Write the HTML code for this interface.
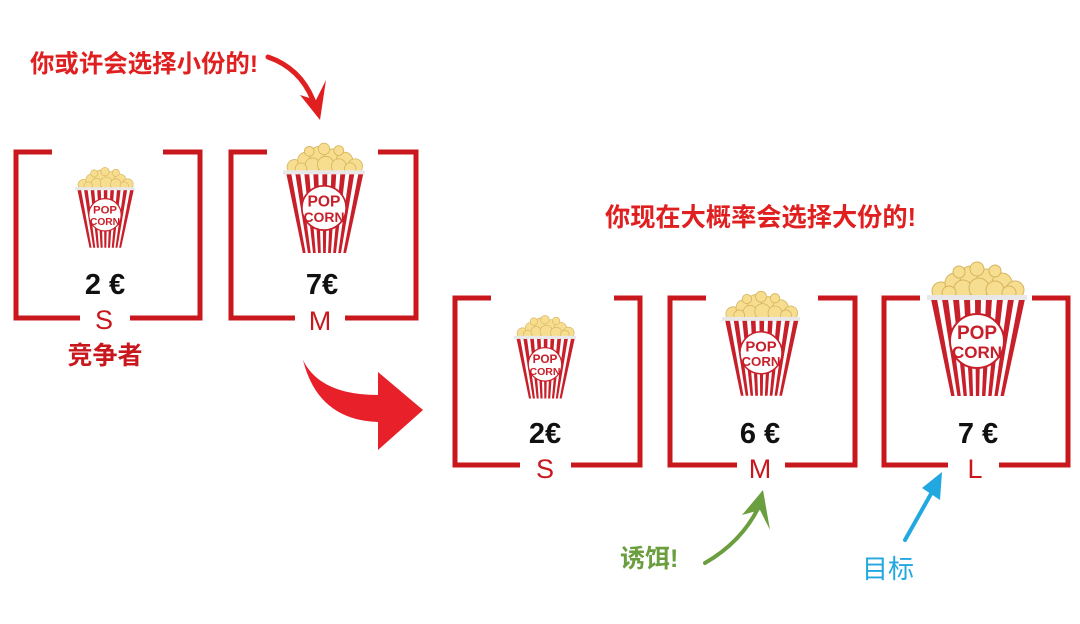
<!DOCTYPE html>
<html><head><meta charset="utf-8"><style>
html,body{margin:0;padding:0;background:#fff;}
svg{display:block;}
text{font-family:"Liberation Sans","Noto Sans CJK SC",sans-serif;}
</style></head><body>
<svg width="1080" height="624" viewBox="0 0 1080 624" xmlns="http://www.w3.org/2000/svg">
<defs>
<g id="pc">
  <g fill="#f6dd90" stroke="#d6b45c" stroke-width="1">
    <circle cx="14" cy="28" r="9"/><circle cx="28" cy="20" r="10"/><circle cx="44" cy="14" r="11"/><circle cx="60" cy="16" r="10"/><circle cx="75" cy="20" r="10"/><circle cx="88" cy="27" r="9"/>
    <circle cx="36" cy="26" r="9"/><circle cx="52" cy="25" r="10"/><circle cx="68" cy="27" r="9"/><circle cx="22" cy="30" r="7"/><circle cx="50" cy="6" r="7"/><circle cx="82" cy="30" r="7"/>
    <circle cx="32" cy="9" r="6"/><circle cx="68" cy="8" r="6"/>
  </g>
  <polygon points="0,33 100,33 78,133 22,133" fill="#fff"/>
  <g fill="#c8202a">
    <polygon points="4,36 10,36 27.6,133 24.2,133"/><polygon points="15,36 21,36 33.8,133 30.4,133"/>
    <polygon points="26,36 32,36 39.9,133 36.6,133"/><polygon points="37,36 43,36 46.1,133 42.7,133"/>
    <polygon points="48,36 54,36 52.2,133 48.9,133"/><polygon points="59,36 65,36 58.4,133 55,133"/>
    <polygon points="70,36 76,36 64.6,133 61.2,133"/><polygon points="81,36 87,36 70.7,133 67.4,133"/>
    <polygon points="92,36 98,36 76.9,133 73.5,133"/>
  </g>
  <rect x="0" y="32" width="100" height="5" fill="#e8e8e8"/>
  <circle cx="50" cy="78" r="27" fill="#fff" stroke="#c8202a" stroke-width="2"/>
  <text x="50" y="76" font-size="19" fill="#c8202a" text-anchor="middle" font-weight="bold">POP</text>
  <text x="50" y="95" font-size="17" fill="#c8202a" text-anchor="middle" font-weight="bold">CORN</text>
</g>
</defs>

<g stroke="#c8181e" stroke-width="5" fill="none">
  <polyline points="52,152 16,152 16,318 80,318"/>
  <polyline points="163,152 200,152 200,318 130,318"/>
  <polyline points="267,152 231,152 231,318 295,318"/>
  <polyline points="378,152 416,152 416,318 345,318"/>
  <polyline points="491,298 455,298 455,465 520,465"/>
  <polyline points="614,298 640,298 640,465 571,465"/>
  <polyline points="706,298 670,298 670,465 737,465"/>
  <polyline points="818,298 855,298 855,465 785,465"/>
  <polyline points="920,298 884,298 884,465 948,465"/>
  <polyline points="1032,298 1068,298 1068,465 999,465"/>
</g>

<use href="#pc" transform="translate(75,168) scale(0.6)"/>
<use href="#pc" transform="translate(283,144) scale(0.82)"/>
<use href="#pc" transform="translate(514,316) scale(0.62)"/>
<use href="#pc" transform="translate(722,292) scale(0.78)"/>
<use href="#pc" transform="translate(927,263) scale(1.0)"/>

<g font-weight="bold" fill="#111" font-size="29" text-anchor="middle">
  <text x="105" y="294">2 €</text>
  <text x="322" y="294">7€</text>
  <text x="545" y="443">2€</text>
  <text x="760" y="443">6 €</text>
  <text x="978" y="443">7 €</text>
</g>
<g fill="#c8181e" font-size="27" text-anchor="middle">
  <text x="104" y="329">S</text>
  <text x="320" y="330">M</text>
  <text x="545" y="478">S</text>
  <text x="760" y="478">M</text>
  <text x="975" y="478">L</text>
</g>
<text x="105" y="364" fill="#c8181e" font-size="25" font-weight="bold" text-anchor="middle">竞争者</text>

<text x="30" y="72" fill="#e02020" font-size="24.5" font-weight="bold" textLength="228" lengthAdjust="spacingAndGlyphs">你或许会选择小份的!</text>
<text x="605" y="226" fill="#e02020" font-size="25.5" font-weight="bold" textLength="311" lengthAdjust="spacingAndGlyphs">你现在大概率会选择大份的!</text>

<path d="M268,57 Q300,68 313,100" stroke="#e02020" stroke-width="5" fill="none" stroke-linecap="round"/>
<polygon points="300,95 320,120 326,80 316,100" fill="#e02020"/>

<path d="M303,360 Q320,395 378,395 L378,372 L423,410 L378,450 L378,422 Q318,420 303,360 Z" fill="#e8202a"/>

<path d="M705,563 Q745,540 762,500" stroke="#6a9e3e" stroke-width="4" fill="none" stroke-linecap="round"/>
<polygon points="742,515 763,490 770,530 760,510" fill="#6a9e3e"/>
<text x="620" y="567" fill="#6a9e3e" font-size="25" font-weight="bold">诱饵!</text>

<path d="M905,540 L936,485" stroke="#22a8e0" stroke-width="4" fill="none" stroke-linecap="round"/>
<polygon points="922,488 942,472 940,500" fill="#22a8e0"/>
<text x="862" y="578" fill="#22a8e0" font-size="26">目标</text>
</svg>
</body></html>
